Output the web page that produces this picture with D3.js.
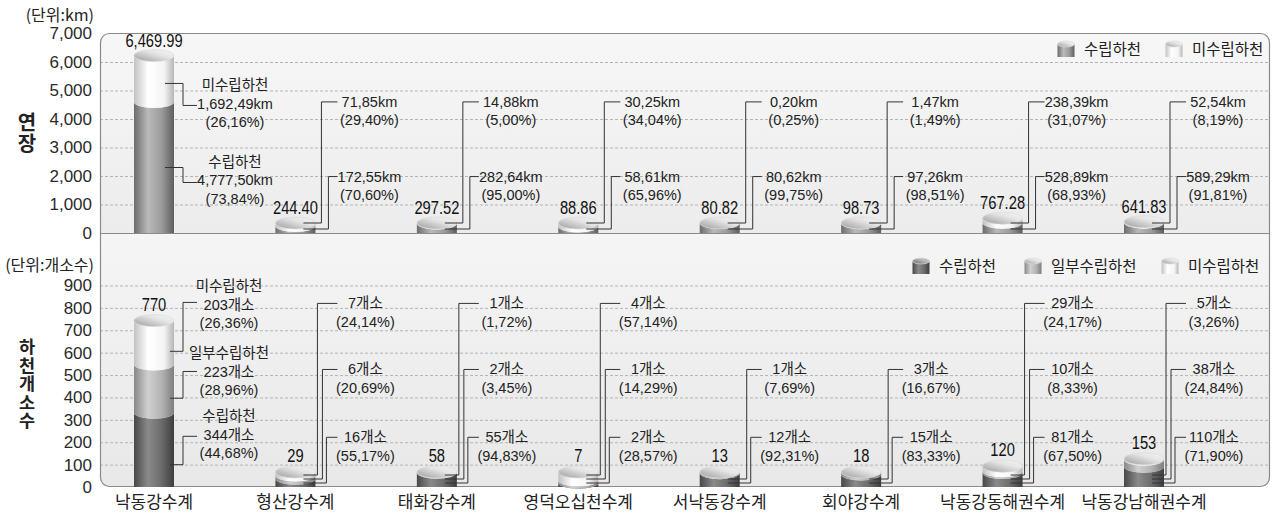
<!DOCTYPE html>
<html><head><meta charset="utf-8">
<script src="https://cdn.jsdelivr.net/npm/d3@7"></script>
<style>body{margin:0;background:#fff}svg{display:block}</style>
</head><body>
<script>
// ---------- data ----------
const categories = ["낙동강수계","형산강수계","태화강수계","영덕오십천수계","서낙동강수계","회야강수계","낙동강동해권수계","낙동강남해권수계"];
const lenTotal = [6469.99,244.40,297.52,88.86,80.82,98.73,767.28,641.83];
const lenDone  = [4777.50,172.55,282.64,58.61,80.62,97.26,528.89,589.29];
const lenNot   = [1692.49,71.85,14.88,30.25,0.20,1.47,238.39,52.54];
const lenDonePct = ["73,84","70,60","95,00","65,96","99,75","98,51","68,93","91,81"];
const lenNotPct  = ["26,16","29,40","5,00","34,04","0,25","1,49","31,07","8,19"];
const cntTotal = [770,29,58,7,13,18,120,153];
const cntDone  = [344,16,55,2,12,15,81,110];
const cntPart  = [223,6,2,1,1,3,10,38];
const cntNot   = [203,7,1,4,0,0,29,5];
const cntDonePct = ["44,68","55,17","94,83","28,57","92,31","83,33","67,50","71,90"];
const cntPartPct = ["28,96","20,69","3,45","14,29","7,69","16,67","8,33","24,84"];
const cntNotPct  = ["26,36","24,14","1,72","57,14",null,null,"24,17","3,26"];
const lenTicks = [0,1000,2000,3000,4000,5000,6000,7000];
const cntTicks = [0,100,200,300,400,500,600,700,800,900];
const lenLegend = ["수립하천","미수립하천"];
const cntLegend = ["수립하천","일부수립하천","미수립하천"];

// ---------- setup ----------
const W=1276,H=515;
const KR="'Noto Sans CJK KR','Noto Sans',sans-serif";
const NUM="'Liberation Sans',Arial,'Noto Sans CJK KR',sans-serif";
const svg=d3.select("body").append("svg").attr("width",W).attr("height",H);
const defs=svg.append("defs");

function grad(id,stops,x1,y1,x2,y2){
  const g=defs.append("linearGradient").attr("id",id).attr("x1",x1).attr("y1",y1).attr("x2",x2).attr("y2",y2);
  stops.forEach(s=>g.append("stop").attr("offset",s[0]).attr("stop-color",s[1]));
}
grad("gTopDone",[[0,"#6c6c6c"],[0.35,"#bababa"],[0.7,"#9a9a9a"],[1,"#5e5e5e"]],0,0,1,0);
grad("gNot",[[0,"#c2c2c2"],[0.35,"#ffffff"],[0.75,"#f4f4f4"],[1,"#b6b6b6"]],0,0,1,0);
grad("gBotDone",[[0,"#484848"],[0.35,"#8a8a8a"],[0.7,"#6a6a6a"],[1,"#3e3e3e"]],0,0,1,0);
grad("gBotPart",[[0,"#888"],[0.35,"#d0d0d0"],[0.7,"#b2b2b2"],[1,"#7e7e7e"]],0,0,1,0);
grad("gCap",[[0,"#9a9a9a"],[0.6,"#e4e4e4"],[1,"#f6f6f6"]],0,1,1,0);
grad("gCapDark",[[0,"#686868"],[0.6,"#b6b6b6"],[1,"#cecece"]],0,1,1,0);
grad("gPanelTop",[[0,"#f7f7f7"],[1,"#ececec"]],0,0,0,1);
grad("gPanelBot",[[0,"#f5f5f5"],[1,"#e8e8e8"]],0,0,0,1);

const PL=100,PR=1270,PT=33,PM=233,PB=487;
const x=d3.scalePoint().domain(categories).range([154,1144]);
const yTop=d3.scaleLinear().domain([0,7000]).range([PM,33.5]);
const yBot=d3.scaleLinear().domain([0,900]).range([PB,285.5]);

// panel
defs.append("clipPath").attr("id","panelClip").append("rect")
  .attr("x",PL).attr("y",PT).attr("width",PR-PL).attr("height",PB-PT).attr("rx",9);
const panel=svg.append("g").attr("clip-path","url(#panelClip)");
panel.append("rect").attr("x",PL).attr("y",PT).attr("width",PR-PL).attr("height",PM-PT).attr("fill","url(#gPanelTop)");
panel.append("rect").attr("x",PL).attr("y",PM).attr("width",PR-PL).attr("height",PB-PM).attr("fill","url(#gPanelBot)");

// gridlines
function grid(scale,vals){
  const g=svg.append("g").attr("transform",`translate(${PL},0)`)
    .call(d3.axisLeft(scale).tickValues(vals).tickSize(-(PR-PL)).tickFormat(""));
  g.select(".domain").remove();
  g.selectAll(".tick line").attr("stroke","#b4b4b4").attr("stroke-dasharray","3,2").attr("stroke-width",1);
}
grid(yTop,lenTicks.filter(v=>v>0&&v<7000));
grid(yBot,cntTicks.filter(v=>v>0));

svg.append("rect").attr("x",PL+0.5).attr("y",PT+0.5).attr("width",PR-PL-1).attr("height",PB-PT-1).attr("rx",9)
  .attr("fill","none").attr("stroke","#8a8a8a").attr("stroke-width",1.2);
svg.append("line").attr("x1",PL).attr("x2",PR).attr("y1",PM+0.5).attr("y2",PM+0.5).attr("stroke","#8a8a8a").attr("stroke-width",1.2);

// axes
function axis(scale,vals){
  const g=svg.append("g").attr("transform","translate(96,0)")
    .call(d3.axisLeft(scale).tickValues(vals).tickSize(0).tickPadding(4).tickFormat(d3.format(",")));
  g.select(".domain").remove();
  g.selectAll("text").attr("font-family",NUM).attr("font-size",17).attr("fill","#2a2a2a");
}
axis(yTop,lenTicks);
axis(yBot,cntTicks);

svg.append("text").attr("x",94).attr("y",21).attr("text-anchor","end").attr("font-family",KR).attr("font-size",16).attr("fill","#222").text("(단위:km)");
svg.append("text").attr("x",94).attr("y",271).attr("text-anchor","end").attr("font-family",KR).attr("font-size",16).attr("fill","#222").text("(단위:개소수)");

// vertical titles
svg.append("text").attr("x",27).attr("y",133).attr("text-anchor","middle").style("writing-mode","vertical-rl")
  .attr("font-family",KR).attr("font-weight","bold").attr("font-size",20).attr("letter-spacing",1).attr("fill","#222").text("연장");
svg.append("text").attr("x",27).attr("y",384).attr("text-anchor","middle").style("writing-mode","vertical-rl")
  .attr("font-family",KR).attr("font-weight","bold").attr("font-size",17.5).attr("letter-spacing",1).attr("fill","#222").text("하천개소수");

// category labels
categories.forEach(c=>svg.append("text").attr("x",x(c)).attr("y",508).attr("text-anchor","middle")
  .attr("font-family",KR).attr("font-size",17).attr("fill","#222").text(c));

// cylinder
function cylinder(cx,base,capY,segs,w,ry){
  const g=svg.append("g");
  const total=d3.sum(segs,s=>s.v);
  const h=base-capY, L=cx-w/2, R=cx+w/2, rx=w/2;
  let cum=0, last=null;
  segs.forEach(s=>{
    if(s.v<=0) return;
    const yb=base-h*cum/total; const first=cum===0; cum+=s.v; const yt=base-h*cum/total;
    let d=`M${L},${yt} A${rx},${ry} 0 0 0 ${R},${yt} L${R},${yb}`;
    d+= first?` L${L},${yb} Z`:` A${rx},${ry} 0 0 1 ${L},${yb} Z`;
    g.append("path").attr("d",d).attr("fill",`url(#${s.grad})`);
    last=s;
  });
  g.append("ellipse").attr("cx",cx).attr("cy",capY).attr("rx",rx).attr("ry",ry)
    .attr("fill",`url(#${last.grad==="gBotDone"?"gCapDark":"gCap"})`).attr("stroke","#d8d8d8").attr("stroke-width",0.6);
  return g;
}
function leader(pts){
  svg.append("path").attr("d",d3.line()(pts)).attr("fill","none").attr("stroke","#333").attr("stroke-width",1);
}
function label(cx,y,lines,size){
  const t=svg.append("text").attr("x",cx).attr("y",y).attr("text-anchor","middle").attr("font-family",NUM)
    .attr("font-size",size||14.5).attr("fill","#222");
  lines.forEach((l,i)=>t.append("tspan").attr("x",cx).attr("dy",i===0?0:18.5).text(l));
}
function valueLabel(cx,y,txt){
  svg.append("text").attr("transform",`translate(${cx},${y}) scale(0.84,1)`).attr("text-anchor","middle")
    .attr("font-family",NUM).attr("font-size",17.5).attr("fill","#111").text(txt);
}
const fmtKm=v=>d3.format(",.2f")(v).replace(/\.(\d\d)$/,",$1")+"km";
const BW=40, RY=6;

// ---------- top panel: length ----------
const topRows=[4600,1980];
categories.forEach((c,i)=>{
  const cx=x(c);
  const capY=Math.min(yTop(lenTotal[i])+7,PM-10);
  cylinder(cx,PM,capY,[{v:lenDone[i],grad:"gTopDone"},{v:lenNot[i],grad:"gNot"}],BW,RY);
  valueLabel(cx,capY-9,d3.format(",.2f")(lenTotal[i]));
  if(i===0){
    const h=PM-capY, tot=lenTotal[i];
    const yNot=PM-h*(lenDone[i]+lenNot[i]*0.4)/tot, yDone=PM-h*(lenDone[i]*0.5)/tot;
    const rowNot=yNot+22, rowDone=yDone+15;
    leader([[cx+11,yNot],[cx+29,yNot],[cx+29,rowNot],[cx+43,rowNot]]);
    leader([[cx+11,yDone],[cx+29,yDone],[cx+29,rowDone],[cx+43,rowDone]]);
    label(cx+81,rowNot-15,["미수립하천",fmtKm(lenNot[i]),`(${lenNotPct[i]}%)`]);
    label(cx+81,rowDone-16,["수립하천",fmtKm(lenDone[i]),`(${lenDonePct[i]}%)`]);
  } else {
    const r1=yTop(topRows[0]), r2=yTop(topRows[1]);
    leader([[cx+8,PM-10],[cx+26,PM-10],[cx+26,r1],[cx+42,r1]]);
    leader([[cx+8,PM-4],[cx+33,PM-4],[cx+33,r2],[cx+42,r2]]);
    label(cx+74,r1+5,[fmtKm(lenNot[i]),`(${lenNotPct[i]}%)`]);
    label(cx+74,r2+5,[fmtKm(lenDone[i]),`(${lenDonePct[i]}%)`]);
  }
});

// ---------- bottom panel: counts ----------
const botRows=[820,525,222];
categories.forEach((c,i)=>{
  const cx=x(c);
  const capY=Math.min(yBot(cntTotal[i])+6,PB-15);
  cylinder(cx,PB,capY,[{v:cntDone[i],grad:"gBotDone"},{v:cntPart[i],grad:"gBotPart"},{v:cntNot[i],grad:"gNot"}],BW,RY);
  valueLabel(cx,capY-10,cntTotal[i]);
  if(i===0){
    const h=PB-capY, tot=cntTotal[i];
    const yNot=PB-h*(cntDone[i]+cntPart[i]+cntNot[i]*0.3)/tot;
    const yPart=PB-h*(cntDone[i]+cntPart[i]*0.3)/tot;
    const yDone=PB-h*(cntDone[i]*0.3)/tot;
    const rN=yBot(botRows[0])-1, rP=yBot(botRows[1])+2, rD=yBot(botRows[2])-1;
    leader([[cx+16,yNot],[cx+29,yNot],[cx+29,rN],[cx+43,rN]]);
    leader([[cx+16,yPart],[cx+29,yPart],[cx+29,rP],[cx+43,rP]]);
    leader([[cx+16,yDone],[cx+29,yDone],[cx+29,rD],[cx+43,rD]]);
    label(cx+75,rN-11,["미수립하천",`${cntNot[i]}개소`,`(${cntNotPct[i]}%)`]);
    label(cx+75,rP-13,["일부수립하천",`${cntPart[i]}개소`,`(${cntPartPct[i]}%)`]);
    label(cx+75,rD-15,["수립하천",`${cntDone[i]}개소`,`(${cntDonePct[i]}%)`]);
  } else {
    const r=botRows.map(v=>yBot(v));
    if(cntNotPct[i]!==null){
      leader([[cx+8,PB-12],[cx+22,PB-12],[cx+22,r[0]],[cx+42,r[0]]]);
      label(cx+70,r[0]+5,[`${cntNot[i]}개소`,`(${cntNotPct[i]}%)`]);
    }
    leader([[cx+8,PB-8],[cx+27,PB-8],[cx+27,r[1]],[cx+42,r[1]]]);
    label(cx+70,r[1]+5,[`${cntPart[i]}개소`,`(${cntPartPct[i]}%)`]);
    leader([[cx+8,PB-4],[cx+31,PB-4],[cx+31,r[2]],[cx+42,r[2]]]);
    label(cx+70,r[2]+5,[`${cntDone[i]}개소`,`(${cntDonePct[i]}%)`]);
  }
});

// ---------- legends ----------
function legendItem(ix,iy,g,txt){
  cylinder(ix+8,iy+16,iy+3,[{v:1,grad:g}],17,3);
  svg.append("text").attr("x",ix+26).attr("y",iy+14).attr("font-family",KR).attr("font-size",15.5).attr("fill","#222").text(txt);
}
legendItem(1058,41,"gTopDone",lenLegend[0]);
legendItem(1166,41,"gNot",lenLegend[1]);
legendItem(913,258,"gBotDone",cntLegend[0]);
legendItem(1025,258,"gBotPart",cntLegend[1]);
legendItem(1162,258,"gNot",cntLegend[2]);
</script>
</body></html>
